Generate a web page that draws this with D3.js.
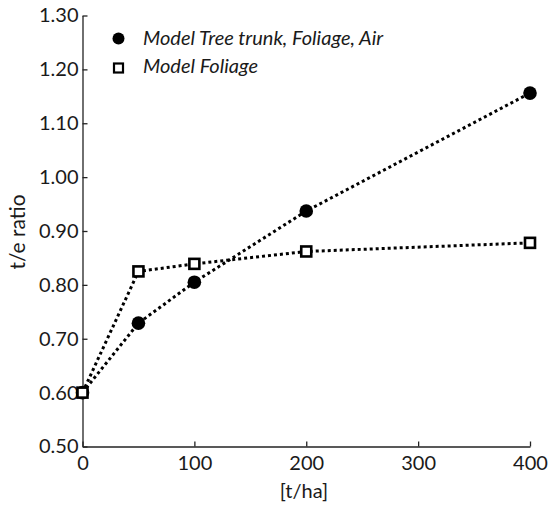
<!DOCTYPE html>
<html><head><meta charset="utf-8">
<script src="https://cdn.jsdelivr.net/npm/d3@7"></script>
<style>body{margin:0;background:#fff}</style>
</head><body>
<script>
const xValues = [0, 50, 100, 200, 400];
const treeTrunkFoliageAir = [0.60, 0.729, 0.805, 0.937, 1.156];
const foliage = [0.60, 0.825, 0.839, 0.862, 0.878];
const xTicks = [0, 100, 200, 300, 400];
const yTicks = [0.5, 0.6, 0.7, 0.8, 0.9, 1.0, 1.1, 1.2, 1.3];
const seriesNames = ["Model Tree trunk, Foliage, Air", "Model Foliage"];

const W = 549, H = 507;
const svg = d3.select("body").append("svg").attr("width", W).attr("height", H);
const x = d3.scaleLinear().domain([0, 400]).range([82.5, 530]);
const y = d3.scaleLinear().domain([0.5, 1.3]).range([446.5, 15.5]);
const font = "Lato, 'Open Sans', sans-serif";

const xa = svg.append("g").attr("transform", `translate(0,${y(0.5)})`)
  .call(d3.axisBottom(x).tickValues(xTicks).tickSize(-5).tickPadding(7).tickSizeOuter(0).tickFormat(d3.format("d")));
const ya = svg.append("g").attr("transform", `translate(${x(0)},0)`)
  .call(d3.axisLeft(y).tickValues(yTicks).tickSize(-5).tickPadding(4).tickSizeOuter(0).tickFormat(d3.format(".2f")));
[xa, ya].forEach(a => {
  a.selectAll("path,line").attr("stroke", "#222").attr("stroke-width", 1.3);
  a.selectAll("text").attr("font-family", font).attr("font-size", 20).attr("fill", "#1a1a1a");
});
xa.selectAll("text").attr("dy", "0.8em");
ya.selectAll("text").attr("dx", "0px");

svg.append("text").attr("x", 304).attr("y", 498).attr("text-anchor", "middle")
  .attr("font-family", font).attr("font-size", 20).attr("fill", "#1a1a1a").text("[t/ha]");
svg.append("text").attr("transform", `translate(25,232) rotate(-90)`).attr("text-anchor", "middle")
  .attr("font-family", font).attr("font-size", 21).attr("fill", "#1a1a1a").text("t/e ratio");

const line = d3.line().x((d, i) => x(xValues[i])).y(d => y(d));
[treeTrunkFoliageAir, foliage].forEach(s => {
  svg.append("path").datum(s).attr("d", line).attr("fill", "none")
    .attr("stroke", "#000").attr("stroke-width", 3).attr("stroke-dasharray", "3,3");
});

svg.append("g").selectAll("circle").data(treeTrunkFoliageAir).join("circle")
  .attr("cx", (d, i) => x(xValues[i])).attr("cy", d => y(d)).attr("r", 6.8).attr("fill", "#000");
svg.append("g").selectAll("rect").data(foliage).join("rect")
  .attr("x", (d, i) => x(xValues[i]) - 5).attr("y", d => y(d) - 5).attr("width", 10).attr("height", 10)
  .attr("fill", "#fff").attr("stroke", "#000").attr("stroke-width", 2.6);

// legend
const lg = svg.append("g");
lg.append("circle").attr("cx", 118.5).attr("cy", 38.5).attr("r", 6).attr("fill", "#000");
lg.append("rect").attr("x", 114).attr("y", 63.5).attr("width", 9).attr("height", 9)
  .attr("fill", "#fff").attr("stroke", "#000").attr("stroke-width", 2.2);
lg.selectAll("text").data(seriesNames).join("text")
  .attr("x", 143).attr("y", (d, i) => 45 + i * 28)
  .attr("font-family", font).attr("font-size", 20).attr("font-style", "italic").attr("fill", "#1a1a1a")
  .text(d => d);
</script>
</body></html>
